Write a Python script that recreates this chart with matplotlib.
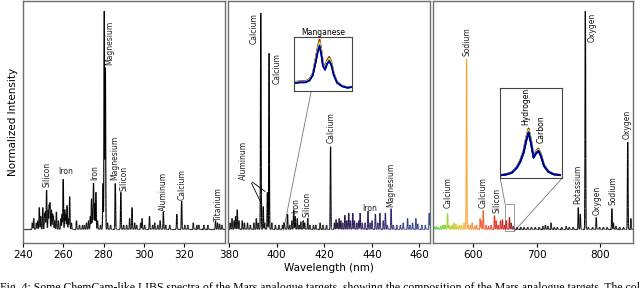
import numpy as np
import matplotlib
matplotlib.use("Agg")
import matplotlib.pyplot as plt
from matplotlib.collections import LineCollection
from matplotlib.colors import LinearSegmentedColormap, Normalize
from matplotlib.patches import Rectangle, ConnectionPatch

# emission peaks: wavelength (nm) and normalized height
uv_wl = [244.5, 245.2, 246.5, 247.2, 248.0, 248.7, 249.7, 250.6, 251.0, 251.6,
         252.4, 252.9, 253.3, 254.0, 254.6, 255.0, 255.7, 256.5, 257.5, 258.7,
         259.3, 259.9, 260.7, 261.2, 261.8, 262.5, 263.1, 264.0, 266.5, 268.0,
         269.5, 270.5, 271.5, 272.5, 273.4, 274.0, 274.6, 275.0, 275.6, 276.2,
         277.0, 278.5, 279.7, 280.35, 280.9, 282.0, 283.5, 285.85, 288.6, 290.0,
         291.5, 293.0, 294.2, 295.5, 296.5, 298.5, 299.2, 300.5, 302.9, 304.5,
         305.5, 307.0, 308.2, 309.8, 311.0, 313.0, 316.5, 318.9, 320.5, 322.0,
         324.7, 326.5, 327.5, 330.0, 332.0, 335.8, 336.8, 337.8, 339.0]
uv_h = [0.03, 0.05, 0.03, 0.04, 0.10, 0.06, 0.10, 0.07, 0.08, 0.18,
        0.09, 0.11, 0.12, 0.09, 0.07, 0.06, 0.04, 0.08, 0.04, 0.05,
        0.07, 0.23, 0.09, 0.07, 0.11, 0.05, 0.15, 0.03, 0.04, 0.02,
        0.02, 0.02, 0.03, 0.04, 0.06, 0.14, 0.09, 0.21, 0.12, 0.17,
        0.04, 0.02, 0.21, 1.00, 0.74, 0.03, 0.02, 0.21, 0.17, 0.02,
        0.02, 0.05, 0.10, 0.03, 0.02, 0.03, 0.05, 0.02, 0.06, 0.02,
        0.03, 0.02, 0.04, 0.08, 0.02, 0.02, 0.07, 0.13, 0.02, 0.02,
        0.03, 0.02, 0.02, 0.02, 0.02, 0.04, 0.03, 0.025, 0.02]

vio_wl = [380.5, 381.3, 382.2, 382.8, 383.5, 384.2, 385.6, 386.5, 387.8, 389.0,
          390.5, 391.5, 392.3, 393.37, 394.40, 395.0, 396.15, 396.85, 398.0, 399.5,
          401.0, 402.5, 403.1, 403.4, 404.6, 405.5, 406.4, 407.2, 407.8, 408.7,
          409.5, 410.2, 411.2, 411.8, 413.1, 414.0, 415.5, 416.5, 418.3, 419.5,
          421.0, 422.67, 424.3, 425.0, 425.6, 426.3, 427.0, 427.8, 428.7, 429.5,
          430.3, 431.0, 432.0, 432.7, 433.7, 434.5, 435.1, 436.0, 437.2, 438.4,
          439.3, 440.1, 441.5, 442.5, 443.4, 444.8, 445.7, 446.5, 448.1, 449.0,
          450.5, 452.0, 453.2, 455.0, 456.0, 457.1, 458.5, 459.3, 461.0, 462.5,
          464.1]
vio_h = [0.03, 0.05, 0.04, 0.06, 0.09, 0.04, 0.04, 0.03, 0.03, 0.02,
         0.03, 0.05, 0.03, 0.995, 0.105, 0.03, 0.17, 0.81, 0.03, 0.02,
         0.02, 0.02, 0.03, 0.02, 0.07, 0.02, 0.04, 0.09, 0.06, 0.05,
         0.02, 0.035, 0.04, 0.03, 0.05, 0.02, 0.02, 0.02, 0.03, 0.02,
         0.02, 0.38, 0.03, 0.045, 0.03, 0.05, 0.04, 0.03, 0.065, 0.04,
         0.075, 0.04, 0.075, 0.04, 0.03, 0.04, 0.075, 0.03, 0.03, 0.084,
         0.03, 0.04, 0.07, 0.03, 0.075, 0.04, 0.075, 0.02, 0.095, 0.02,
         0.02, 0.02, 0.03, 0.05, 0.02, 0.03, 0.05, 0.025, 0.02, 0.02,
         0.075]

vnir_wl = [538, 541, 544, 548, 551, 553.5, 556, 558.9, 561, 564,
           566.5, 569, 572, 575, 578, 581, 585, 589.0, 591.5, 595,
           598, 602, 605, 610.5, 612.5, 615.5, 620, 624, 628, 633.3,
           636, 639, 642.8, 645.9, 649, 652.3, 657.0, 659.8, 663, 669,
           675, 680, 686, 692, 698, 704, 710, 714, 718, 723,
           728, 733, 740, 747, 752, 758, 766.2, 769.4, 777.4, 782,
           789, 794.7, 800, 806, 812, 819.5, 822, 826, 832, 838,
           844.6, 849.6]
vnir_h = [0.01, 0.015, 0.01, 0.015, 0.02, 0.02, 0.02, 0.072, 0.02, 0.015,
          0.02, 0.03, 0.025, 0.015, 0.02, 0.02, 0.03, 0.78, 0.02, 0.02,
          0.03, 0.015, 0.02, 0.05, 0.04, 0.087, 0.02, 0.015, 0.02, 0.063,
          0.04, 0.02, 0.04, 0.045, 0.02, 0.04, 0.055, 0.03, 0.015, 0.01,
          0.01, 0.01, 0.01, 0.01, 0.01, 0.01, 0.015, 0.02, 0.015, 0.03,
          0.01, 0.01, 0.01, 0.015, 0.01, 0.01, 0.10, 0.07, 1.00, 0.01,
          0.01, 0.055, 0.01, 0.01, 0.01, 0.095, 0.03, 0.015, 0.01, 0.01,
          0.40, 0.05]

# zoomed regions (inset curves), y as fraction of inset height
mn_wl = [402.54, 402.66, 402.78, 402.88, 402.96, 403.02, 403.08, 403.12, 403.16, 403.20,
         403.25, 403.30, 403.35, 403.40, 403.46, 403.54, 403.66, 403.78, 403.88]
mn_y = [0.17, 0.18, 0.18, 0.22, 0.33, 0.57, 0.82, 0.93, 0.76, 0.52,
        0.44, 0.56, 0.62, 0.54, 0.33, 0.17, 0.10, 0.07, 0.08]
mn_scale = [1.07, 1.04, 1.02, 1.00, 0.98, 0.96, 0.95, 0.94, 0.93]

hc_wl = [651.77, 652.6, 653.4, 654.2, 654.74, 655.3, 655.7, 656.1, 656.5, 656.9,
         657.3, 657.7, 658.1, 658.6, 659.3, 660.15, 661.2]
hc_y = [0.04, 0.05, 0.07, 0.13, 0.20, 0.31, 0.45, 0.55, 0.42, 0.25,
        0.30, 0.33, 0.27, 0.15, 0.08, 0.05, 0.04]
hc_scale = [1.00, 0.98, 0.97, 0.95, 0.94, 0.93, 0.92, 0.91]

# peak labels: (text, x, y, rotation, vertical alignment)
uv_labels = [("Silicon", 251.7, 0.20, 90, "bottom"), ("Iron", 261.0, 0.25, 0, "bottom"),
             ("Iron", 275.4, 0.23, 90, "bottom"), ("Magnesium", 282.9, 0.96, 90, "top"),
             ("Magnesium", 285.8, 0.23, 90, "bottom"), ("Silicon", 290.3, 0.18, 90, "bottom"),
             ("Aluminum", 310.0, 0.09, 90, "bottom"), ("Calcium", 319.0, 0.14, 90, "bottom"),
             ("Titanium", 337.4, 0.04, 90, "bottom")]
vio_labels = [("Calcium", 390.6, 0.995, 90, "top"), ("Calcium", 400.1, 0.81, 90, "top"),
              ("Aluminum", 386.1, 0.23, 90, "bottom"), ("Iron", 408.2, 0.08, 90, "bottom"),
              ("Silicon", 412.9, 0.06, 90, "bottom"), ("Calcium", 422.8, 0.40, 90, "bottom"),
              ("Iron", 439.1, 0.08, 0, "bottom"), ("Magnesium", 447.8, 0.105, 90, "bottom")]
vnir_labels = [("Calcium", 559.4, 0.10, 90, "bottom"), ("Sodium", 590.1, 0.80, 90, "bottom"),
               ("Calcium", 614.8, 0.10, 90, "bottom"), ("Silicon", 636.5, 0.08, 90, "bottom"),
               ("Potassium", 765.7, 0.12, 90, "bottom"), ("Oxygen", 787.9, 0.995, 90, "top"),
               ("Oxygen", 795.8, 0.07, 90, "bottom"), ("Sodium", 822.0, 0.115, 90, "bottom"),
               ("Oxygen", 844.2, 0.42, 90, "bottom")]

# wavelength colouring of the trace
spec_cmap = LinearSegmentedColormap.from_list("spec", [
    (0.00, "#000000"), (0.08, "#000000"), (0.095, "#1c0a40"), (0.13, "#2a1a6a"),
    (0.16, "#203888"), (0.18, "#1e4a9a"), (0.31, "#40d840"), (0.36, "#a0d020"),
    (0.40, "#f0c020"), (0.42, "#f8a030"), (0.46, "#f06a30"), (0.50, "#e83018"),
    (0.54, "#d01010"), (0.565, "#7a1010"), (0.585, "#000000"), (1.00, "#000000")])
spec_norm = Normalize(380, 880)

fig = plt.figure(figsize=(6.4, 2.88), dpi=100)
bottom, height = 0.156, 0.84
ax1 = fig.add_axes([0.0364, bottom, 0.3145, height])
ax2 = fig.add_axes([0.3566, bottom, 0.3148, height])
ax3 = fig.add_axes([0.6758, bottom, 0.3133, height])

panels = [(ax1, uv_wl, uv_h, (240, 340.3), 0.15, [240, 260, 280, 300, 320], uv_labels),
          (ax2, vio_wl, vio_h, (379.7, 464.3), 0.12, [380, 400, 420, 440, 460], vio_labels),
          (ax3, vnir_wl, vnir_h, (535, 853), 0.45, [600, 700, 800], vnir_labels)]

for ax, wl, h, lim, sig, ticks, labels in panels:
    x = np.arange(lim[0], lim[1], sig / 6)
    y = np.full_like(x, 0.004)
    for w, a in zip(wl, h):
        y += a * np.exp(-0.5 * ((x - w) / sig) ** 2)
    pts = np.column_stack([x, y]).reshape(-1, 1, 2)
    segs = np.concatenate([pts[:-1], pts[1:]], axis=1)
    lc = LineCollection(segs, colors=spec_cmap(spec_norm((x[:-1] + x[1:]) / 2)), linewidths=0.85)
    ax.add_collection(lc)
    ax.set_xlim(*lim)
    ax.set_ylim(-0.059, 1.05)
    ax.set_yticks([])
    ax.set_xticks(ticks)
    ax.tick_params(axis="x", labelsize=7.5, length=3, width=0.8, pad=2)
    for s in ax.spines.values():
        s.set_color("#6e6e6e")
        s.set_linewidth(1.0)
    for txt, tx, ty, rot, va in labels:
        ax.text(tx, ty, txt, rotation=rot, ha="center", va=va, fontsize=5.5, color="#222222")

ax1.set_ylabel("Normalized Intensity", fontsize=7.5, labelpad=4)
ax2.set_xlabel("Wavelength (nm)", fontsize=7.5, labelpad=2)

# aluminum pointer lines
for px, py in [(394.40, 0.105), (396.15, 0.17)]:
    ax2.annotate("", xy=(px, py), xytext=(388.9, 0.228),
                 arrowprops=dict(arrowstyle="-", color="black", lw=0.6))

# manganese inset
jet = plt.get_cmap("jet")
axm = ax2.inset_axes([0.325, 0.628, 0.29, 0.223])
for i, sc in enumerate(mn_scale):
    axm.plot(mn_wl, [v * sc for v in mn_y], color=jet(1 - i / (len(mn_scale) - 1)), lw=1.1)
axm.set_xlim(402.5, 403.9)
axm.set_ylim(0, 1.04)
axm.set_xticks([])
axm.set_yticks([])
axm.set_title("Manganese", fontsize=5.5, pad=1.5)
for s in axm.spines.values():
    s.set_color("#444444")
    s.set_linewidth(0.8)
ax2.add_artist(ConnectionPatch(xyA=(0.3, 0), coordsA=axm.transAxes, xyB=(402.9, 0.0),
                               coordsB=ax2.transData, color="#777777", lw=0.6))

# hydrogen / carbon inset
axh = ax3.inset_axes([0.338, 0.267, 0.307, 0.376])
for i, sc in enumerate(hc_scale):
    axh.plot(hc_wl, [v * sc for v in hc_y], color=jet(1 - i / (len(hc_scale) - 1)), lw=1.3)
axh.set_xlim(651.5, 661.5)
axh.set_ylim(0, 1)
axh.set_xticks([])
axh.set_yticks([])
axh.text(0.42, 0.59, "Hydrogen", transform=axh.transAxes, rotation=90, ha="center", va="bottom", fontsize=5.5)
axh.text(0.66, 0.385, "Carbon", transform=axh.transAxes, rotation=90, ha="center", va="bottom", fontsize=5.5)
for s in axh.spines.values():
    s.set_color("#444444")
    s.set_linewidth(0.8)
ax3.add_patch(Rectangle((650, -0.005), 14.5, 0.127, fill=False, edgecolor="#888888", lw=0.6))
ax3.add_artist(ConnectionPatch(xyA=(0, 0), coordsA=axh.transAxes, xyB=(650, 0.122),
                               coordsB=ax3.transData, color="#777777", lw=0.6))
ax3.add_artist(ConnectionPatch(xyA=(1, 0), coordsA=axh.transAxes, xyB=(664.5, -0.005),
                               coordsB=ax3.transData, color="#777777", lw=0.6))

# figure caption, cut by the lower edge as in the source page
fig.text(0.0, -0.011, "Fig. 4: Some ChemCam-like LIBS spectra of the Mars analogue targets, showing the composition of the Mars analogue targets. The coloured highlighted li",
         fontsize=8.5, family="Liberation Serif", va="baseline", ha="left")

fig.savefig("out.png", dpi=100)
